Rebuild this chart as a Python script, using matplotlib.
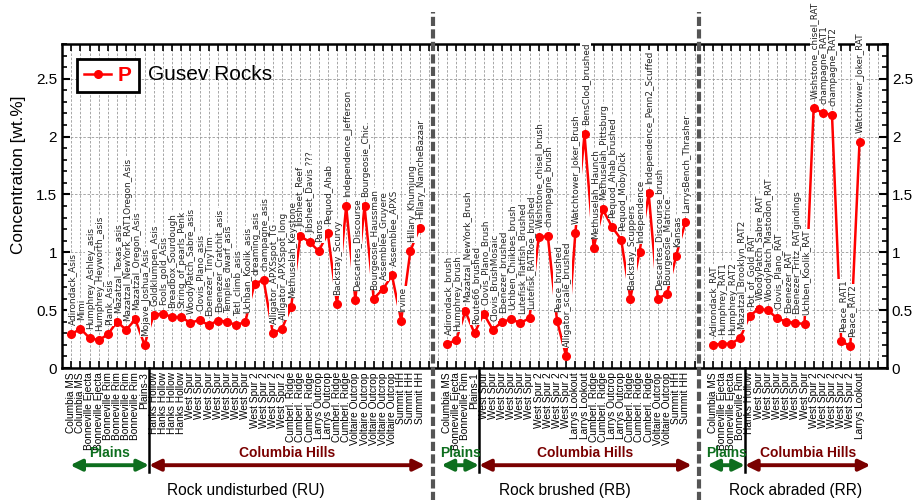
import matplotlib.pyplot as plt
import matplotlib.transforms as mtransforms
from matplotlib.lines import Line2D
from matplotlib.ticker import MultipleLocator, FuncFormatter

plt.rcParams['font.family'] = ['Liberation Sans', 'DejaVu Sans']
narrow = ['Liberation Sans Narrow', 'Liberation Sans']

# rock undisturbed (RU)
ru_names = ['Adirondack_Asis', 'Mimi', 'Humphrey_Ashley_asis', 'Humphrey_Heyworth_asis', 'Plank_Asis',
            'Mazatzal_Texas_asis', 'Mazatzal_NewYork_RAT1Oregon_Asis', 'Mazatzal_Oregon_Asis', 'Mojave_Joshua_Asis',
            'Goldklumpen_Asis', 'Fools_gold_Asis', 'Breadbox_Sourdough', 'String_of_pearls_Penk',
            'WoodyPatch_Sabre_asis', 'Clovis_Plano_asis', 'Ebenezer_TinyTim', 'Ebenezer_Cratchit_asis',
            'Temples_dwarf_asis', 'Tetl_climb_asis', 'Uchban_Koolik_asis', 'dreaming_asis', 'champagne_asis',
            'Alligator_APXSspot_TG', 'Alligator_APXSspot_long', 'Methuselah_Keystone', 'Jibsheet_Reef',
            'Jibsheet_Davis ???', 'Paros', 'Pequod_Ahab', 'Backstay_Scurvy', 'Independence_Jefferson',
            'Descartes_Discourse', 'Bourgeosie_Chic.', 'Bourgeosie_Haussman', 'Assemblee_Gruyere',
            'Assemblee_APXS', 'Irvine', 'Hillary_Khumjung', 'Hillary_NamcheBazaar']
ru_sites = (['Columbia MS'] * 2 + ['Bonneville Ejecta'] * 2 + ['Bonneville Rim'] * 4 + ['Plains-3']
            + ['Hanks Hollow'] * 4 + ['West Spur'] * 7 + ['West Spur 2'] * 4 + ['Cumberl. Ridge'] * 3
            + ['Larrys Outcrop'] * 2 + ['Cumberl. Ridge'] * 2 + ['Voltaire Outcrop'] * 5 + ['Summit HH'] * 3)
ru_p = [0.29, 0.34, 0.26, 0.24, 0.29, 0.40, 0.33, 0.42, 0.20,
        0.46, 0.47, 0.44, 0.44, 0.39, 0.415, 0.37, 0.41, 0.40, 0.37, 0.40,
        0.73, 0.76, 0.30, 0.34,
        0.53, 1.14, 1.09, 1.01, 1.165, 0.55, 1.40, 0.59, 1.40, 0.60, 0.68, 0.80, 0.41, 1.01, 1.21]

# rock brushed (RB)
rb_names = ['Adirondack_brush', 'Humphrey_brush', 'Mazatzal_NewYork_Brush', 'Route66_brushed',
            'Clovis_Plano_Brush', 'Clovis_BrushMosaic', 'Ebenezer_brushed', 'Uchben_Chiikbes_brush',
            'Lutefisk_flatfish_Brushed', 'Lutefisk_RATRoe_brushed', 'Wishstone_chisel_brush', 'champagne_brush',
            'Peace_brushed', 'Alligator_scale_brushed', 'Watchtower_Joker_Brush', 'BensClod_brushed',
            'Methuselah_Haunch', 'Methuselah_Pittsburg', 'Pequod_Ahab_brushed', 'Pequod_MobyDick',
            'Backstay_Scuppers', 'Independence', 'Independence_Penn2_Scuffed', 'Descartes_Discourse_brush',
            'Bourgeosie_Matrice.', 'Kansas', 'LarrysBench_Thrasher']
rb_sites = (['Columbia MS', 'Bonneville Ejecta', 'Bonneville Rim', 'Plains-1'] + ['West Spur'] * 6
            + ['West Spur 2'] * 4 + ['Larrys Lookout'] * 2 + ['Cumberl. Ridge'] * 2 + ['Larrys Outcrop'] * 2
            + ['Cumberl. Ridge'] * 3 + ['Voltaire Outcrop'] * 2 + ['Summit HH'] * 2)
rb_p = [0.21, 0.24, 0.49, 0.30, 0.47, 0.33, 0.40, 0.42, 0.39, 0.43, 1.13, 1.14, 0.41, 0.10,
        1.165, 2.02, 1.04, 1.37, 1.22, 1.11, 0.60, 1.00, 1.51, 0.60, 0.64, 0.97, 1.26]

# rock abraded (RR)
rr_names = ['Adirondack_RAT', 'Humphrey_RAT1', 'Humphrey_RAT2', 'Mazatzal_Brooklyn_RAT2', 'Pot_of_Gold_RAT',
            'WoodyPatch_Sabre_RAT', 'WoodyPatch_Mastodon_RAT', 'Clovis_Plano_RAT', 'Ebenezer_RAT',
            'Ebenezer_Fritz_RATgindings', 'Uchben_Koolik_RAT', 'Wishstone_chisel_RAT', 'champagne_RAT1',
            'champagne_RAT2', 'Peace_RAT1', 'Peace_RAT2', 'Watchtower_Joker_RAT']
rr_sites = (['Columbia MS', 'Bonneville Ejecta', 'Bonneville Ejecta', 'Bonneville Rim', 'Hanks Hollow']
            + ['West Spur'] * 6 + ['West Spur 2'] * 5 + ['Larrys Lookout'])
rr_p = [0.20, 0.21, 0.21, 0.26, 0.45, 0.51, 0.50, 0.43, 0.40, 0.39, 0.38, 2.25, 2.20, 2.19, 0.23, 0.19, 1.95]

sections = [(0, ru_names, ru_sites, ru_p), (41, rb_names, rb_sites, rb_p), (70, rr_names, rr_sites, rr_p)]
nslots = 89

fig = plt.figure(figsize=(9.17, 5.0), dpi=100)
ax = fig.add_axes([62 / 917, 132 / 500, 825 / 917, 324 / 500])

ticklabels = [''] * nslots
for start, names, sites, vals in sections:
    x = list(range(start, start + len(vals)))
    ax.plot(x, vals, '-o', color='red', lw=1.8, ms=5.5, zorder=3)
    for xi, v, name in zip(x, vals, names):
        # white patch behind the label hides the line, text goes on top of all patches
        ax.annotate(name, (xi, v), xytext=(0.8, 6.5), textcoords='offset points', rotation=90,
                    ha='center', va='bottom', fontsize=6.4, family='DejaVu Sans', color='white',
                    zorder=3.5, annotation_clip=False,
                    bbox=dict(boxstyle='square,pad=0.08', fc='white', ec='none'))
        ax.annotate(name, (xi, v), xytext=(0.8, 6.5), textcoords='offset points', rotation=90,
                    ha='center', va='bottom', fontsize=6.4, family='DejaVu Sans', color='#222222',
                    zorder=4, annotation_clip=False)
    for xi, s in zip(x, sites):
        ticklabels[xi] = s

ax.set_xlim(-1, nslots)
ax.set_ylim(0, 2.8)
ax.set_xticks(range(nslots))
ax.set_xticklabels(ticklabels, rotation=90, fontsize=7.3, family=narrow)
ax.yaxis.set_major_locator(MultipleLocator(0.5))
ax.yaxis.set_minor_locator(MultipleLocator(0.1))
ax.yaxis.set_major_formatter(FuncFormatter(lambda v, p: '%g' % v))
ax.tick_params(axis='x', direction='in', top=True, length=5, width=1.2, pad=3)
ax.tick_params(axis='y', which='major', direction='in', left=True, right=True, labelright=True,
               length=6, width=1.5, labelsize=11)
ax.tick_params(axis='y', which='minor', direction='in', left=True, right=True, length=3.5, width=1.2)
ax.grid(True, axis='both', ls='--', lw=0.6, color='#999999', dashes=(3, 2))
ax.set_axisbelow(True)
for sp in ax.spines.values():
    sp.set_linewidth(1.8)
ax.set_ylabel('Concentration [wt.%]', fontsize=12.3, family=narrow)
ax.yaxis.set_label_coords(-0.044, 0.595)

# legend box and title
h = Line2D([], [], color='red', marker='o', lw=1.8, ms=5.5)
leg = ax.legend([h], ['P'], loc='upper left', bbox_to_anchor=(0.018, 0.955), borderaxespad=0,
                handlelength=1.3, handletextpad=0.3, borderpad=0.35, fancybox=False, framealpha=1,
                edgecolor='black', prop={'weight': 'bold', 'size': 15})
leg.get_frame().set_linewidth(2)
leg.get_texts()[0].set_color('red')
ax.text(0.104, 0.905, 'Gusev Rocks', transform=ax.transAxes, fontsize=15, va='center', ha='left')

trans = mtransforms.blended_transform_factory(ax.transData, ax.transAxes)

# gray dashed lines between the three groups
for xd in [39.5, 68.5]:
    ax.plot([xd, xd], [-0.41, 1.1], transform=trans, clip_on=False, color='#555555', lw=3,
            ls=(0, (2.2, 0.8)), zorder=5)

# plains / columbia hills arrows
green = '#0d6e1e'
dred = '#7a0000'
astyle = '<|-|>,head_length=0.45,head_width=0.22'
groups = [(-0.1, 8.5, 38.6), (40.4, 44.5, 67.7), (69.4, 73.5, 87.2)]
for a, b, c in groups:
    ax.plot([b, b], [0, -0.32], transform=trans, clip_on=False, color='black', lw=1.8)
    ax.annotate('', xy=(a, -0.30), xytext=(b, -0.30), xycoords=trans, textcoords=trans,
                arrowprops=dict(arrowstyle=astyle, color=green, lw=2.8, mutation_scale=15,
                                shrinkA=0, shrinkB=0))
    ax.annotate('', xy=(b, -0.30), xytext=(c, -0.30), xycoords=trans, textcoords=trans,
                arrowprops=dict(arrowstyle=astyle, color=dred, lw=2.8, mutation_scale=15,
                                shrinkA=0, shrinkB=0))
    ax.text((a + b) / 2, -0.262, 'Plains', transform=trans, color=green, fontsize=10,
            fontweight='bold', ha='center', va='center')
    ax.text((b + c) / 2, -0.262, 'Columbia Hills', transform=trans, color=dred, fontsize=10,
            fontweight='bold', ha='center', va='center')

for xs, title in [(19.1, 'Rock undisturbed (RU)'), (53.9, 'Rock brushed (RB)'), (79.0, 'Rock abraded (RR)')]:
    ax.text(xs, -0.378, title, transform=trans, fontsize=11.2, ha='center', va='center')

plt.savefig('out.png', dpi=100)
